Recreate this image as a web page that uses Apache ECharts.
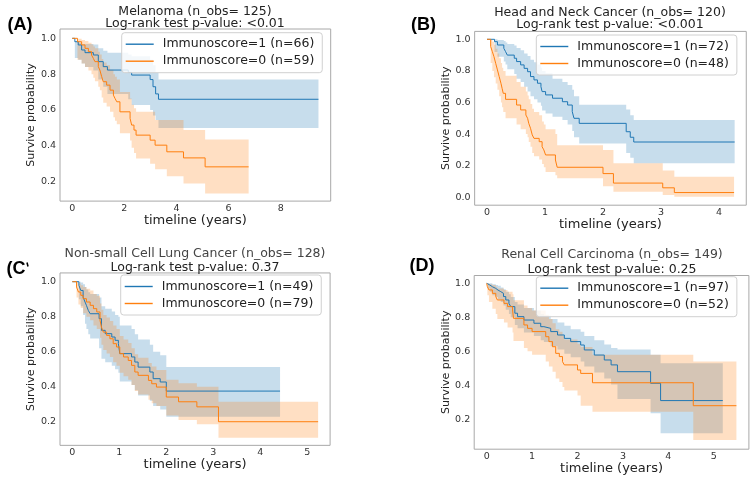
<!DOCTYPE html>
<html>
<head>
<meta charset="utf-8">
<script src="https://cdn.jsdelivr.net/npm/echarts@6/dist/echarts.min.js"></script>
<style>html,body{margin:0;padding:0;background:#fff;}#c{width:756px;height:480px;}</style>
</head>
<body>
<div id="c"></div>
<script>
// ---------- Panel A: Melanoma ----------
const A1_t  = [0, 0.1, 0.23, 0.36, 0.49, 0.81, 1.0, 1.19, 1.35, 2.15, 2.28, 2.99, 3.1, 3.2, 3.31, 9.45];
const A1_s  = [1, 0.981, 0.963, 0.935, 0.92, 0.907, 0.87, 0.842, 0.823, 0.81, 0.795, 0.77, 0.73, 0.69, 0.66, 0.66];
const A1_lo = [1, 0.89, 0.88, 0.86, 0.84, 0.82, 0.77, 0.73, 0.69, 0.66, 0.628, 0.6, 0.57, 0.545, 0.5, 0.5];
const A1_hi = [1, 0.985, 0.975, 0.968, 0.968, 0.965, 0.945, 0.93, 0.92, 0.91, 0.9, 0.88, 0.85, 0.81, 0.77, 0.77];
const A0_t  = [0, 0.2, 0.36, 0.49, 0.62, 0.74, 0.81, 0.87, 1.0, 1.06, 1.13, 1.19, 1.32, 1.45, 1.58, 1.64, 1.71, 1.83, 2.22, 2.28, 2.37, 2.45, 2.99, 3.18, 3.63, 4.27, 5.1, 6.77];
const A0_s  = [1, 0.981, 0.963, 0.944, 0.926, 0.907, 0.888, 0.87, 0.842, 0.823, 0.786, 0.758, 0.739, 0.711, 0.683, 0.665, 0.646, 0.59, 0.553, 0.516, 0.488, 0.46, 0.432, 0.404, 0.367, 0.333, 0.283, 0.283];
const A0_lo = [1, 0.88, 0.86, 0.84, 0.82, 0.8, 0.78, 0.76, 0.73, 0.71, 0.67, 0.64, 0.62, 0.59, 0.56, 0.54, 0.52, 0.47, 0.43, 0.39, 0.36, 0.33, 0.3, 0.27, 0.23, 0.19, 0.134, 0.134];
const A0_hi = [1, 0.997, 0.99, 0.985, 0.975, 0.965, 0.955, 0.945, 0.925, 0.91, 0.885, 0.865, 0.85, 0.825, 0.8, 0.785, 0.77, 0.7, 0.665, 0.63, 0.61, 0.59, 0.59, 0.545, 0.545, 0.488, 0.436, 0.436];

// ---------- Panel B: Head and Neck Cancer ----------
const B1_t  = [0, 0.13, 0.18, 0.29, 0.32, 0.35, 0.47, 0.51, 0.58, 0.64, 0.7, 0.75, 0.81, 0.87, 0.93, 0.95, 1.01, 1.13, 1.3, 1.39, 1.47, 1.5, 1.59, 2.4, 2.47, 2.53, 4.27];
const B1_s  = [1, 0.985, 0.964, 0.943, 0.922, 0.9, 0.88, 0.859, 0.838, 0.816, 0.795, 0.764, 0.743, 0.722, 0.7, 0.669, 0.648, 0.627, 0.605, 0.584, 0.542, 0.5, 0.468, 0.415, 0.38, 0.35, 0.35];
const B1_lo = [1, 0.92, 0.89, 0.86, 0.84, 0.81, 0.78, 0.75, 0.73, 0.7, 0.67, 0.64, 0.62, 0.6, 0.58, 0.55, 0.53, 0.51, 0.49, 0.46, 0.42, 0.38, 0.34, 0.28, 0.25, 0.215, 0.215];
const B1_hi = [1, 1, 0.995, 0.99, 0.98, 0.97, 0.96, 0.945, 0.93, 0.91, 0.895, 0.87, 0.855, 0.84, 0.82, 0.8, 0.785, 0.75, 0.73, 0.71, 0.68, 0.64, 0.585, 0.555, 0.52, 0.49, 0.49];
const B0_t  = [0, 0.063, 0.092, 0.12, 0.15, 0.18, 0.21, 0.24, 0.26, 0.28, 0.32, 0.51, 0.58, 0.67, 0.7, 0.72, 0.75, 0.78, 0.81, 0.9, 0.95, 0.98, 1.01, 1.18, 1.21, 2.0, 2.18, 3.03, 3.23, 4.26];
const B0_s  = [1, 0.954, 0.922, 0.89, 0.848, 0.806, 0.764, 0.722, 0.69, 0.658, 0.62, 0.584, 0.553, 0.521, 0.5, 0.468, 0.437, 0.395, 0.373, 0.352, 0.32, 0.3, 0.268, 0.236, 0.19, 0.15, 0.09, 0.06, 0.03, 0.03];
const B0_lo = [1, 0.85, 0.8, 0.76, 0.72, 0.68, 0.64, 0.6, 0.57, 0.54, 0.5, 0.46, 0.43, 0.4, 0.38, 0.35, 0.32, 0.28, 0.26, 0.24, 0.21, 0.19, 0.16, 0.14, 0.12, 0.07, 0.035, 0.015, 0.004, 0.004];
const B0_hi = [1, 0.995, 0.985, 0.965, 0.94, 0.91, 0.88, 0.85, 0.82, 0.8, 0.77, 0.73, 0.7, 0.67, 0.645, 0.62, 0.59, 0.56, 0.54, 0.52, 0.48, 0.46, 0.43, 0.4, 0.33, 0.3, 0.215, 0.17, 0.13, 0.13];

// ---------- Panel C: Non-small Cell Lung Cancer ----------
const C1_t  = [0, 0.14, 0.18, 0.23, 0.27, 0.3, 0.34, 0.38, 0.57, 0.62, 0.7, 0.84, 0.91, 0.98, 1.01, 1.26, 1.33, 1.4, 1.65, 1.72, 1.87, 2.0, 4.42];
const C1_s  = [1, 0.979, 0.95, 0.912, 0.884, 0.865, 0.836, 0.817, 0.789, 0.722, 0.703, 0.684, 0.665, 0.646, 0.589, 0.57, 0.541, 0.512, 0.484, 0.446, 0.427, 0.375, 0.375];
const C1_lo = [1, 0.9, 0.86, 0.81, 0.76, 0.73, 0.7, 0.675, 0.62, 0.56, 0.54, 0.52, 0.5, 0.48, 0.43, 0.41, 0.38, 0.35, 0.32, 0.29, 0.27, 0.229, 0.229];
const C1_hi = [1, 1, 0.995, 0.985, 0.97, 0.955, 0.94, 0.93, 0.91, 0.86, 0.845, 0.83, 0.81, 0.8, 0.75, 0.73, 0.7, 0.67, 0.64, 0.6, 0.58, 0.512, 0.512];
const C0_t  = [0, 0.09, 0.13, 0.18, 0.23, 0.3, 0.38, 0.45, 0.52, 0.59, 0.62, 0.66, 0.73, 0.8, 0.87, 0.94, 1.01, 1.09, 1.19, 1.26, 1.33, 1.4, 1.62, 1.69, 1.79, 2.0, 2.26, 2.65, 3.11, 5.23];
const C0_s  = [1, 0.97, 0.941, 0.922, 0.903, 0.884, 0.865, 0.846, 0.827, 0.779, 0.741, 0.712, 0.693, 0.674, 0.646, 0.627, 0.589, 0.57, 0.55, 0.522, 0.484, 0.465, 0.436, 0.417, 0.398, 0.341, 0.314, 0.285, 0.2, 0.2];
const C0_lo = [1, 0.91, 0.87, 0.85, 0.82, 0.8, 0.78, 0.75, 0.73, 0.68, 0.64, 0.61, 0.59, 0.57, 0.54, 0.52, 0.48, 0.46, 0.44, 0.41, 0.375, 0.355, 0.325, 0.305, 0.29, 0.235, 0.21, 0.185, 0.109, 0.109];
const C0_hi = [1, 1, 0.99, 0.98, 0.97, 0.96, 0.95, 0.93, 0.92, 0.875, 0.84, 0.81, 0.795, 0.775, 0.75, 0.73, 0.69, 0.67, 0.65, 0.62, 0.585, 0.565, 0.535, 0.515, 0.495, 0.44, 0.42, 0.4, 0.314, 0.314];

// ---------- Panel D: Renal Cell Carcinoma ----------
const D1_t  = [0, 0.03, 0.07, 0.125, 0.2, 0.25, 0.31, 0.37, 0.42, 0.49, 0.53, 0.62, 0.68, 0.82, 1.04, 1.19, 1.26, 1.41, 1.56, 1.71, 1.85, 2.07, 2.15, 2.37, 2.59, 2.74, 2.88, 3.61, 3.83, 5.2];
const D1_s  = [1, 0.99, 0.98, 0.97, 0.96, 0.951, 0.941, 0.922, 0.902, 0.882, 0.863, 0.824, 0.804, 0.784, 0.765, 0.745, 0.735, 0.716, 0.696, 0.676, 0.657, 0.637, 0.608, 0.578, 0.549, 0.52, 0.48, 0.412, 0.31, 0.31];
const D1_lo = [1, 0.97, 0.95, 0.93, 0.92, 0.905, 0.89, 0.87, 0.845, 0.82, 0.8, 0.755, 0.735, 0.71, 0.69, 0.665, 0.655, 0.63, 0.61, 0.585, 0.565, 0.54, 0.51, 0.475, 0.44, 0.405, 0.32, 0.235, 0.118, 0.118];
const D1_hi = [1, 1, 1, 0.995, 0.99, 0.985, 0.975, 0.965, 0.95, 0.935, 0.92, 0.89, 0.875, 0.855, 0.84, 0.82, 0.81, 0.79, 0.77, 0.75, 0.73, 0.715, 0.69, 0.665, 0.64, 0.62, 0.61, 0.58, 0.53, 0.53];
const D0_t  = [0, 0.015, 0.05, 0.125, 0.2, 0.235, 0.38, 0.46, 0.57, 0.59, 0.82, 0.9, 1.0, 1.3, 1.37, 1.45, 1.52, 1.6, 1.67, 1.71, 2.0, 2.07, 2.33, 4.55, 5.5];
const D0_s  = [1, 0.98, 0.961, 0.941, 0.922, 0.902, 0.882, 0.863, 0.843, 0.794, 0.755, 0.735, 0.716, 0.686, 0.657, 0.627, 0.588, 0.569, 0.539, 0.52, 0.49, 0.47, 0.415, 0.28, 0.28];
const D0_lo = [1, 0.93, 0.89, 0.85, 0.82, 0.79, 0.77, 0.74, 0.71, 0.66, 0.62, 0.6, 0.58, 0.54, 0.51, 0.48, 0.44, 0.42, 0.39, 0.37, 0.34, 0.28, 0.245, 0.078, 0.078];
const D0_hi = [1, 1, 0.995, 0.99, 0.98, 0.97, 0.96, 0.95, 0.935, 0.9, 0.87, 0.855, 0.84, 0.815, 0.79, 0.765, 0.73, 0.715, 0.69, 0.67, 0.645, 0.625, 0.58, 0.54, 0.54];

// ---------- Text ----------
const titles1 = ['Melanoma (n_obs= 125)', 'Head and Neck Cancer (n_obs= 120)', 'Non-small Cell Lung Cancer (n_obs= 128)', 'Renal Cell Carcinoma (n_obs= 149)'];
const titles2 = ['Log-rank test p-value: <0.01', 'Log-rank test p-value: <0.001', 'Log-rank test p-value: 0.37', 'Log-rank test p-value: 0.25'];
const names1 = ['Immunoscore=1 (n=66)', 'Immunoscore=1 (n=72)', 'Immunoscore=1 (n=49)', 'Immunoscore=1 (n=97)'];
const names0 = ['Immunoscore=0 (n=59)', 'Immunoscore=0 (n=48)', 'Immunoscore=0 (n=79)', 'Immunoscore=0 (n=52)'];
const xTicks = [[0, 2, 4, 6, 8], [0, 1, 2, 3, 4], [0, 1, 2, 3, 4, 5], [0, 1, 2, 3, 4, 5]];
const yTicks = [[0.2, 0.4, 0.6, 0.8, 1.0], [0.0, 0.2, 0.4, 0.6, 0.8, 1.0], [0.2, 0.4, 0.6, 0.8, 1.0], [0.2, 0.4, 0.6, 0.8, 1.0]];

// ---------- Layout (pixels / axis ranges) ----------
const grids = [
  {left: 60.0, top: 29.0, width: 270.7, height: 172.1},
  {left: 474.65, top: 31.4, width: 271.6, height: 173.8},
  {left: 60.0, top: 272.95, width: 270.1, height: 172.4},
  {left: 474.2, top: 275.5, width: 274.7, height: 173.7}
];
const xRange = [[-0.47, 9.92], [-0.213, 4.47], [-0.262, 5.485], [-0.275, 5.775]];
const yRange = [[0.092, 1.052], [-0.05, 1.05], [0.065, 1.05], [0.024, 1.046]];
const legendPos = [[121.7, 32.7], [536.3, 35], [120.7, 275], [536.3, 276.7]];
const titleX = [195, 610, 195, 612];
const titleY = [[11.7, 24.2], [12.7, 25.2], [254, 267.3], [255, 269.3]];

const BLUE = '#1f77b4', ORANGE = '#ff7f0e';
const BAND = ['rgba(31,119,180,0.25)', 'rgba(255,127,14,0.25)'];
const FONT = '"DejaVu Sans", "Liberation Sans", sans-serif';

const groups = [
  [[A1_t, A1_s, A1_lo, A1_hi], [A0_t, A0_s, A0_lo, A0_hi]],
  [[B1_t, B1_s, B1_lo, B1_hi], [B0_t, B0_s, B0_lo, B0_hi]],
  [[C1_t, C1_s, C1_lo, C1_hi], [C0_t, C0_s, C0_lo, C0_hi]],
  [[D1_t, D1_s, D1_lo, D1_hi], [D0_t, D0_s, D0_lo, D0_hi]]
];

// confidence band drawn as one step-shaped polygon, positions via the axes' scales (api.coord)
function bandSeries(p, t, lo, hi, fill) {
  return {
    type: 'custom', xAxisIndex: p, yAxisIndex: p, silent: true, z: 1,
    data: t.map((x, i) => [x, lo[i], hi[i]]),
    encode: {x: 0, y: [1, 2]},
    renderItem: function (params, api) {
      if (params.dataIndex !== 0) return null;
      const n = t.length, pts = [];
      for (let i = 0; i < n; i++) {
        pts.push(api.coord([t[i], hi[i]]));
        if (i < n - 1) pts.push(api.coord([t[i + 1], hi[i]]));
      }
      for (let i = n - 1; i >= 0; i--) {
        if (i < n - 1) pts.push(api.coord([t[i + 1], lo[i]]));
        pts.push(api.coord([t[i], lo[i]]));
      }
      return {type: 'polygon', shape: {points: pts}, style: {fill: fill}};
    }
  };
}

const series = [];
const xAxes = [], yAxes = [], legends = [];
groups.forEach((pair, p) => {
  const cols = [BLUE, ORANGE];
  const nm = [names1[p], names0[p]];
  pair.forEach((g, k) => {
    const [t, s, lo, hi] = g;
    series.push(bandSeries(p, t, lo, hi, BAND[k]));
  });
  pair.forEach((g, k) => {
    const [t, s] = g;
    series.push({
      type: 'line', xAxisIndex: p, yAxisIndex: p, name: nm[k],
      step: 'end', symbol: 'none', showSymbol: false, silent: true, z: 3,
      color: cols[k],
      lineStyle: {width: 1.0, color: cols[k]},
      data: t.map((x, i) => [x, s[i]])
    });
  });
  xAxes.push({
    type: 'value', gridIndex: p, min: xRange[p][0], max: xRange[p][1],
    name: 'timeline (years)', nameLocation: 'middle', nameGap: 8,
    nameTextStyle: {fontSize: 13, color: '#222', fontFamily: FONT},
    axisLine: {show: false}, splitLine: {show: false},
    axisTick: {show: false},
    axisLabel: {customValues: xTicks[p], fontSize: 9.5, color: '#333', margin: 2, fontFamily: FONT,
      formatter: v => String(v)}
  });
  yAxes.push({
    type: 'value', gridIndex: p, min: yRange[p][0], max: yRange[p][1],
    name: 'Survive probability', nameLocation: 'middle', nameGap: 21,
    nameTextStyle: {fontSize: 11, color: '#222', fontFamily: FONT},
    axisLine: {show: false}, splitLine: {show: false},
    axisTick: {show: false},
    axisLabel: {customValues: yTicks[p], fontSize: 9.5, color: '#333', margin: 4, fontFamily: FONT,
      formatter: v => v.toFixed(1)}
  });
  legends.push({
    data: [nm[0], nm[1]], orient: 'vertical', left: legendPos[p][0], top: legendPos[p][1],
    padding: [4, 8, 4, 4], itemWidth: 28, itemHeight: 1.4, itemGap: 2, icon: 'rect',
    selectedMode: false,
    backgroundColor: 'rgba(255,255,255,0.8)', borderColor: '#d0d0d0', borderWidth: 1, borderRadius: 3,
    textStyle: {fontSize: 12.5, color: '#222', fontFamily: FONT, lineHeight: 15, padding: [0, 0, 0, 4]}
  });
});

const graphics = [];
for (let p = 0; p < 4; p++) {
  graphics.push({type: 'text', style: {text: titles1[p], x: titleX[p], y: titleY[p][0], textAlign: 'center', textVerticalAlign: 'middle', align: 'center', verticalAlign: 'middle', font: '12.5px ' + FONT, fill: p < 2 ? '#222' : '#444'}});
  graphics.push({type: 'text', style: {text: titles2[p], x: titleX[p], y: titleY[p][1], textAlign: 'center', textVerticalAlign: 'middle', align: 'center', verticalAlign: 'middle', font: '12.5px ' + FONT, fill: '#222'}});
}
const PFONT = 'bold 18px "Liberation Sans", Arial, sans-serif';
graphics.push({type: 'text', style: {text: '(A)', x: 7.5, y: 25, textVerticalAlign: 'middle', verticalAlign: 'middle', font: PFONT, fill: '#000'}});
graphics.push({type: 'text', style: {text: '(B)', x: 411, y: 25, textVerticalAlign: 'middle', verticalAlign: 'middle', font: PFONT, fill: '#000'}});
graphics.push({type: 'text', style: {text: '(C', x: 6.5, y: 269, textVerticalAlign: 'middle', verticalAlign: 'middle', font: PFONT, fill: '#000'}});
graphics.push({type: 'line', shape: {x1: 27, y1: 262.5, x2: 28, y2: 266.5}, style: {stroke: '#000', lineWidth: 1.5}});
graphics.push({type: 'text', style: {text: '(D)', x: 409.5, y: 266, textVerticalAlign: 'middle', verticalAlign: 'middle', font: PFONT, fill: '#000'}});

const chart = echarts.init(document.getElementById('c'), null, {renderer: 'canvas'});
chart.setOption({
  animation: false,
  backgroundColor: '#fff',
  textStyle: {fontFamily: FONT},
  grid: grids.map(g => Object.assign({show: true, borderColor: '#a8a8a8', borderWidth: 1, containLabel: false}, g)),
  xAxis: xAxes,
  yAxis: yAxes,
  legend: legends,
  series: series,
  graphic: graphics
});
</script>
</body>
</html>
